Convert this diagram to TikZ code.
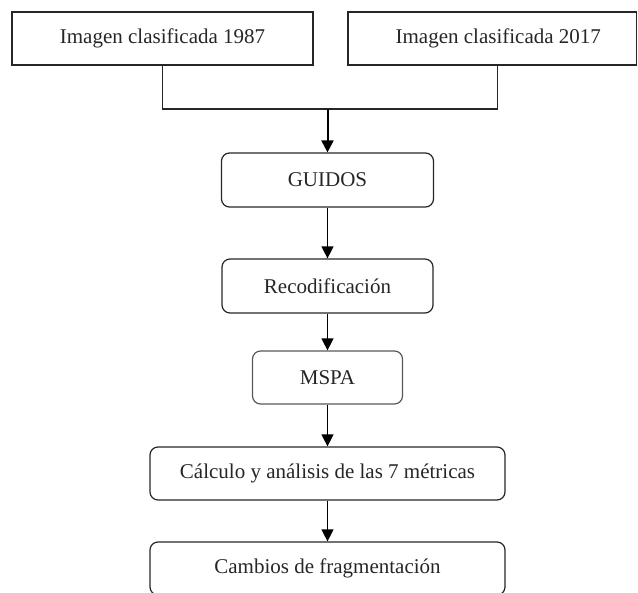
\documentclass[tikz,border=0pt]{standalone}
\usepackage{fontspec}
\setmainfont{Liberation Serif}
\usetikzlibrary{arrows.meta}
\begin{document}
\begin{tikzpicture}[x=1pt,y=-1pt,
  box/.style={draw=black!85, line width=1.2pt, inner sep=0pt, text=black!85,
    font=\fontsize{21}{25}\selectfont, minimum height=53pt},
  sqbox/.style={box},
  rbox/.style={box, rounded corners=8pt},
  flow/.style={draw=black, line width=1.3pt, -{Triangle[width=12pt,length=12pt]}},
  link/.style={draw=black!85, line width=1.2pt}
]
\useasboundingbox (0,0) rectangle (638,593);
\clip (0,0) rectangle (638,593);
\node[sqbox, minimum width=301pt] (b1) at (162.5,38.5) {Imagen clasificada 1987};
\node[sqbox, minimum width=288.5pt] (b2) at (492.25,38.5) {\hspace{12pt}Imagen clasificada 2017};
\node[rbox, minimum width=212pt, minimum height=54pt] (g) at (327.5,180) {GUIDOS};
\node[rbox, minimum width=211pt, minimum height=54pt] (r) at (327.5,286) {Recodificación};
\node[rbox, minimum width=150pt, draw=black!65] (m) at (327.5,377.5) {MSPA};
\node[rbox, minimum width=355pt] (c) at (327.5,473.5) {Cálculo y análisis de las 7 métricas\hspace{14pt}};
\node[rbox, minimum width=355pt] (f) at (327.5,568.5) {Cambios de fragmentación};
\coordinate (j) at (327.5,109);
\draw[link] (b1.south) |- (j) -| ([xshift=5pt]b2.south);
\draw[flow, line width=2pt] (j) -- (g.north);
\draw[flow] (g) -- (r);
\draw[flow] (r) -- (m);
\draw[flow] (m) -- (c);
\draw[flow] (c) -- (f);
\end{tikzpicture}
\end{document}
